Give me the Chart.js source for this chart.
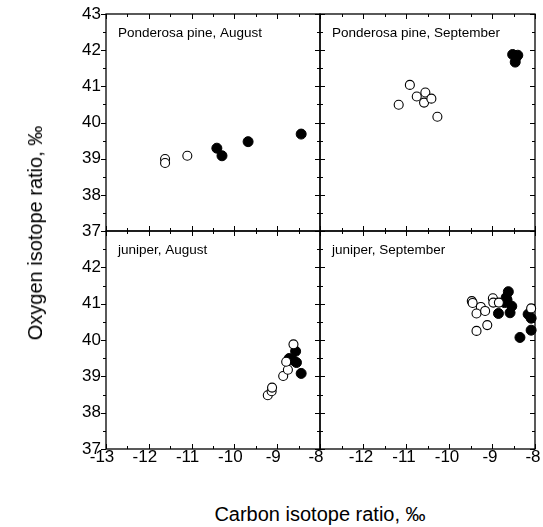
<!DOCTYPE html>
<html><head><meta charset="utf-8">
<script src="https://cdn.jsdelivr.net/npm/chart.js@4.4.0/dist/chart.umd.min.js"></script>
<style>
html,body{margin:0;padding:0;background:#fff;width:543px;height:527px;overflow:hidden;position:relative;}
canvas{position:absolute;}
.t{position:absolute;font-family:"Liberation Sans",Arial,sans-serif;color:#000;white-space:nowrap;font-size:20px;line-height:1;}
</style></head><body>
<canvas id="c0" width="340" height="249" style="left:0px;top:-2px"></canvas>
<canvas id="c1" width="243" height="249" style="left:310px;top:-2px"></canvas>
<canvas id="c2" width="340" height="286" style="left:0px;top:215px"></canvas>
<canvas id="c3" width="243" height="286" style="left:310px;top:215px"></canvas>
<div class="t" id="xt" style="left:320px;top:514px;transform:translate(-50%,-50%)">Carbon isotope ratio, ‰</div>
<div class="t" id="yt" style="left:35px;top:233px;transform:translate(-50%,-50%) rotate(-90deg)">Oxygen isotope ratio, ‰</div>
<script>
// ---- data (carbon isotope ratio x, oxygen isotope ratio y) ----
const xTicks = [-13, -12, -11, -10, -9, -8];
const yTicks = [37, 38, 39, 40, 41, 42, 43];
const panelTitles = ["Ponderosa pine, August", "Ponderosa pine, September", "juniper, August", "juniper, September"];

const pineAugOpenX = [-11.62, -11.62, -11.10];
const pineAugOpenY = [38.99, 38.88, 39.08];
const pineAugFillX = [-10.41, -10.29, -9.68, -8.44];
const pineAugFillY = [39.29, 39.08, 39.47, 39.68];

const pineSepOpenX = [-11.17, -10.91, -10.75, -10.55, -10.58, -10.41, -10.27];
const pineSepOpenY = [40.49, 41.04, 40.72, 40.83, 40.55, 40.66, 40.16];
const pineSepFillX = [-8.52, -8.40, -8.46, -8.44];
const pineSepFillY = [41.88, 41.86, 41.67, 41.80];

const junAugOpenX = [-9.22, -9.13, -9.12, -8.86, -8.75, -8.79, -8.62];
const junAugOpenY = [38.48, 38.59, 38.69, 39.01, 39.18, 39.40, 39.88];
const junAugFillX = [-8.72, -8.64, -8.57, -8.55, -8.44];
const junAugFillY = [39.49, 39.45, 39.69, 39.38, 39.08];

const junSepOpenX = [-9.47, -9.45, -9.26, -9.36, -9.16, -8.98, -8.97, -8.84, -9.36, -9.11, -8.09];
const junSepOpenY = [41.07, 41.02, 40.91, 40.73, 40.80, 41.15, 41.03, 41.03, 40.25, 40.41, 40.87];
const junSepFillX = [-8.62, -8.67, -8.71, -8.65, -8.54, -8.85, -8.58, -8.16, -8.09, -8.09, -8.35];
const junSepFillY = [41.33, 41.17, 41.03, 41.10, 40.93, 40.73, 40.75, 40.71, 40.60, 40.27, 40.07];

const FONT = '"Liberation Sans", Arial, sans-serif';
const xMin = xTicks[0], xMax = xTicks[xTicks.length - 1];
const yMin = yTicks[0], yMax = yTicks[yTicks.length - 1];

function pts(xs, ys) { return xs.map((v, i) => ({ x: v, y: ys[i] })); }

const framePlugin = {
  id: 'frame',
  beforeDatasetsDraw(chart, args, o) {
    const { ctx, chartArea: a, scales: { x, y } } = chart;
    ctx.save();
    ctx.strokeStyle = '#000';
    ctx.lineWidth = 1.3;
    ctx.strokeRect(a.left, a.top, a.right - a.left, a.bottom - a.top);
    ctx.lineWidth = 1;
    ctx.beginPath();
    for (let v = xMin; v <= xMax + 1e-9; v += 0.5) {
      const px = Math.round(x.getPixelForValue(v)) + 0.5;
      const L = Number.isInteger(v) ? 5 : 3;
      ctx.moveTo(px, a.top); ctx.lineTo(px, a.top + L);
      ctx.moveTo(px, a.bottom); ctx.lineTo(px, a.bottom - L);
    }
    for (let v = yMin; v <= yMax + 1e-9; v += 0.5) {
      const py = Math.round(y.getPixelForValue(v)) + 0.5;
      const L = Number.isInteger(v) ? 5 : 3;
      if (o.leftOut) { ctx.moveTo(a.left, py); ctx.lineTo(a.left - L, py); }
      else { ctx.moveTo(a.left, py); ctx.lineTo(a.left + L, py); }
      ctx.moveTo(a.right, py); ctx.lineTo(a.right - L, py);
    }
    ctx.stroke();
    ctx.font = '13.5px ' + FONT;
    ctx.fillStyle = '#000';
    ctx.textBaseline = 'middle';
    ctx.textAlign = 'left';
    ctx.fillText(o.title, a.left + 12, a.top + 19);
    ctx.restore();
  }
};

function makePanel(id, title, openX, openY, fillX, fillY, cfg) {
  new Chart(document.getElementById(id), {
    type: 'scatter',
    data: {
      datasets: [
        { data: pts(openX, openY), pointStyle: 'circle', pointRadius: 4.5, pointHoverRadius: 4.5,
          backgroundColor: '#fff', borderColor: '#000', borderWidth: 1.1, clip: false },
        { data: pts(fillX, fillY), pointStyle: 'circle', pointRadius: 5, pointHoverRadius: 5,
          backgroundColor: '#000', borderColor: '#000', borderWidth: 1, clip: false }
      ]
    },
    options: {
      responsive: false, animation: false, events: [],
      layout: { padding: cfg.pad },
      plugins: { legend: { display: false }, tooltip: { enabled: false }, frame: { title: title, leftOut: cfg.leftOut } },
      scales: {
        x: {
          type: 'linear', min: xMin, max: xMax, position: 'bottom',
          afterBuildTicks: s => { s.ticks = xTicks.map(v => ({ value: v })); },
          ticks: { display: cfg.showX, autoSkip: false, maxRotation: 0, padding: -2, labelOffset: cfg.xOff,
                   color: '#000', font: { family: FONT, size: 17 },
                   callback: v => (cfg.hideX.includes(v) ? '' : String(v)) },
          grid: { display: false, drawTicks: false }, border: { display: false },
          afterFit: s => { s.height = cfg.xh; }
        },
        y: {
          type: 'linear', min: yMin, max: yMax, position: 'left',
          afterBuildTicks: s => { s.ticks = yTicks.map(v => ({ value: v })); },
          ticks: { display: cfg.showY, autoSkip: false, padding: 0, color: '#000', font: { family: FONT, size: 17 },
                   callback: v => (cfg.hideY.includes(v) ? '' : String(v)) },
          grid: { display: false, drawTicks: true, tickLength: 5 }, border: { display: false },
          afterFit: s => { s.width = cfg.yw; }
        }
      }
    },
    plugins: [framePlugin]
  });
}

makePanel('c0', panelTitles[0], pineAugOpenX, pineAugOpenY, pineAugFillX, pineAugFillY,
  { pad: { left: 0, top: 16, right: 20, bottom: 16 }, yw: 106, xh: 0, showX: false, showY: true, hideX: [], hideY: [], leftOut: true, xOff: -4 });
makePanel('c1', panelTitles[1], pineSepOpenX, pineSepOpenY, pineSepFillX, pineSepFillY,
  { pad: { left: 10, top: 16, right: 18, bottom: 16 }, yw: 0, xh: 0, showX: false, showY: false, hideX: [], hideY: [], leftOut: false, xOff: -2 });
makePanel('c2', panelTitles[2], junAugOpenX, junAugOpenY, junAugFillX, junAugFillY,
  { pad: { left: 0, top: 16, right: 20, bottom: 12 }, yw: 106, xh: 40, showX: true, showY: true, hideX: [], hideY: [43], leftOut: true, xOff: -4 });
makePanel('c3', panelTitles[3], junSepOpenX, junSepOpenY, junSepFillX, junSepFillY,
  { pad: { left: 10, top: 16, right: 18, bottom: 12 }, yw: 0, xh: 40, showX: true, showY: false, hideX: [-13], hideY: [], leftOut: false, xOff: -2 });
</script>
</body></html>
